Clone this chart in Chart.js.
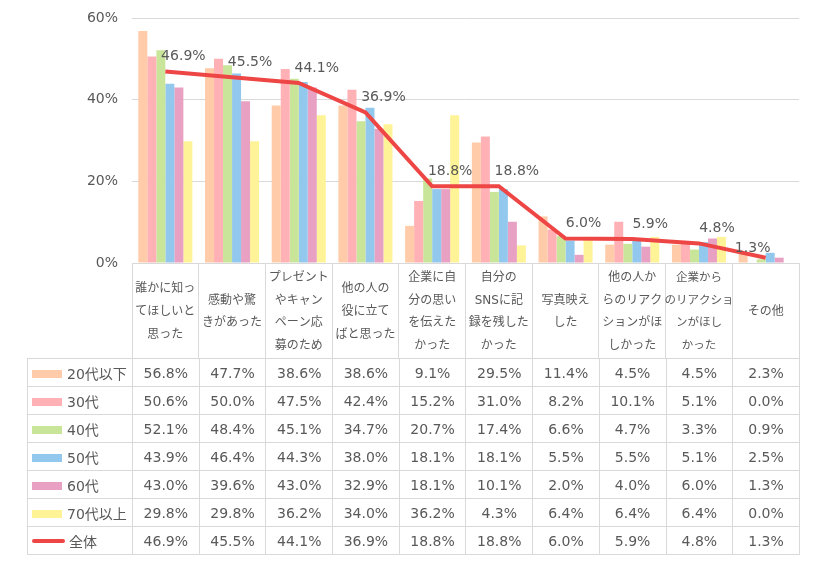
<!DOCTYPE html>
<html>
<head>
<meta charset="utf-8">
<script src="https://cdn.jsdelivr.net/npm/chart.js@4"></script>
<style>
  body { margin: 0; background: #fff; }
  #wrap { position: relative; width: 816px; height: 562px; }
  #chart { position: absolute; left: 0; top: 0; }
  #table {
    position: absolute; left: 27px; top: 358px;
    border-collapse: collapse; table-layout: fixed;
    font: 14px "DejaVu Sans", "Noto Sans CJK JP", sans-serif; color: #595959;
  }
  #table td { border: 1px solid #d9d9d9; height: 27px; padding: 0; text-align: center; white-space: nowrap; }
  #table td.name { text-align: left; padding-left: 4px; }
  .sw { display: inline-block; width: 30px; height: 8px; margin-right: 5px; vertical-align: 1px; }
  .ln { display: inline-block; width: 33px; height: 4px; margin-right: 4px; vertical-align: 4px; border-radius: 2px; }
</style>
</head>
<body>
<div id="wrap">
  <canvas id="chart" width="816" height="562"></canvas>
  <table id="table"></table>
</div>
<script>
const categories = [
  ['誰かに知っ', 'てほしいと', '思った'],
  ['感動や驚', 'きがあった'],
  ['プレゼント', 'やキャン', 'ペーン応', '募のため'],
  ['他の人の', '役に立て', 'ばと思った'],
  ['企業に自', '分の思い', 'を伝えた', 'かった'],
  ['自分の', 'SNSに記', '録を残した', 'かった'],
  ['写真映え', 'した'],
  ['他の人か', 'らのリアク', 'ションがほ', 'しかった'],
  ['企業から', 'のリアクショ', 'ンがほし', 'かった'],
  ['その他']
];

const seriesNames = ['20代以下', '30代', '40代', '50代', '60代', '70代以上'];
const seriesColors = ['#FFCBA8', '#FFB1B6', '#C9E59A', '#92C8EE', '#E8A0C3', '#FFF398'];

const age20 = [56.8, 47.7, 38.6, 38.6, 9.1, 29.5, 11.4, 4.5, 4.5, 2.3];
const age30 = [50.6, 50.0, 47.5, 42.4, 15.2, 31.0, 8.2, 10.1, 5.1, 0.0];
const age40 = [52.1, 48.4, 45.1, 34.7, 20.7, 17.4, 6.6, 4.7, 3.3, 0.9];
const age50 = [43.9, 46.4, 44.3, 38.0, 18.1, 18.1, 5.5, 5.5, 5.1, 2.5];
const age60 = [43.0, 39.6, 43.0, 32.9, 18.1, 10.1, 2.0, 4.0, 6.0, 1.3];
const age70 = [29.8, 29.8, 36.2, 34.0, 36.2, 4.3, 6.4, 6.4, 6.4, 0.0];
const total = [46.9, 45.5, 44.1, 36.9, 18.8, 18.8, 6.0, 5.9, 4.8, 1.3];
const totalName = '全体';
const totalColor = '#EE4545';

const yTicks = [0, 20, 40, 60];

const ageSeries = [age20, age30, age40, age50, age60, age70];
const textColor = '#595959';
const fontFamily = '"DejaVu Sans", "Noto Sans CJK JP", sans-serif';

Chart.defaults.font.family = fontFamily;
Chart.defaults.color = textColor;

// labels on the 全体 line, above right of each point
const lineLabels = {
  id: 'lineLabels',
  afterDatasetsDraw(chart) {
    const ctx = chart.ctx;
    const meta = chart.getDatasetMeta(chart.data.datasets.length - 1);
    ctx.save();
    ctx.font = '14px ' + fontFamily;
    ctx.fillStyle = textColor;
    ctx.textAlign = 'center';
    ctx.textBaseline = 'middle';
    meta.data.forEach(function (pt, i) {
      const txt = total[i].toFixed(1) + '%';
      const w = ctx.measureText(txt).width;
      let x = pt.x + 18, y = pt.y - 15;
      if (x + w / 2 > chart.chartArea.right) { x = pt.x - 13; y = pt.y - 9; }
      ctx.fillText(txt, x, y);
    });
    ctx.restore();
  }
};

const datasets = ageSeries.map(function (d, i) {
  return {
    type: 'bar',
    label: seriesNames[i],
    data: d,
    backgroundColor: seriesColors[i],
    borderWidth: 0,
    categoryPercentage: 0.81,
    barPercentage: 1.0,
    order: 1
  };
});
datasets.push({
  type: 'line',
  label: totalName,
  data: total,
  borderColor: totalColor,
  borderWidth: 4,
  pointRadius: 0,
  tension: 0,
  fill: false,
  order: 0
});

const chart = new Chart(document.getElementById('chart'), {
  type: 'bar',
  data: { labels: categories, datasets: datasets },
  options: {
    responsive: false,
    animation: false,
    layout: { padding: { left: 0, right: 17, top: 18, bottom: 204 } },
    plugins: { legend: { display: false }, tooltip: { enabled: false } },
    scales: {
      x: {
        grid: { offset: true, drawOnChartArea: false, tickLength: 95, color: '#d9d9d9' },
        border: { display: true, color: '#d9d9d9' },
        ticks: {
          maxRotation: 0, autoSkip: false, crossAlign: 'center', padding: -80,
          color: textColor,
          font: function (c) {
            const longest = Math.max.apply(null, categories[c.index].map(function (s) { return s.length; }));
            const size = longest > 5 ? 11.5 : 12;
            return { size: size, lineHeight: 22.6 / size, family: fontFamily };
          }
        },
        afterFit(s) { s.height = 95; s.paddingLeft = 0; s.paddingRight = 0; }
      },
      y: {
        min: 0, max: 60,
        afterBuildTicks(s) { s.ticks = yTicks.map(function (v) { return { value: v }; }); },
        grid: { color: '#d9d9d9', drawTicks: false },
        border: { display: false },
        ticks: {
          padding: 14, color: textColor, font: { size: 14 },
          callback: function (v) { return v + '%'; }
        },
        afterFit(s) { s.width = 132; s.paddingTop = 0; s.paddingBottom = 0; }
      }
    }
  },
  plugins: [lineLabels]
});

// data table below the chart, columns follow the chart area
const table = document.getElementById('table');
const colW = (chart.chartArea.right - chart.chartArea.left) / categories.length;
let html = '<colgroup><col style="width:' + (chart.chartArea.left - 27) + 'px">';
categories.forEach(function () { html += '<col style="width:' + colW + 'px">'; });
html += '</colgroup>';
ageSeries.forEach(function (d, i) {
  html += '<tr><td class="name"><span class="sw" style="background:' + seriesColors[i] + '"></span>' + seriesNames[i] + '</td>';
  d.forEach(function (v) { html += '<td>' + v.toFixed(1) + '%</td>'; });
  html += '</tr>';
});
html += '<tr><td class="name"><span class="ln" style="background:' + totalColor + '"></span>' + totalName + '</td>';
total.forEach(function (v) { html += '<td>' + v.toFixed(1) + '%</td>'; });
html += '</tr>';
table.innerHTML = html;
table.style.width = (chart.chartArea.right - 27) + 'px';
</script>
</body>
</html>
